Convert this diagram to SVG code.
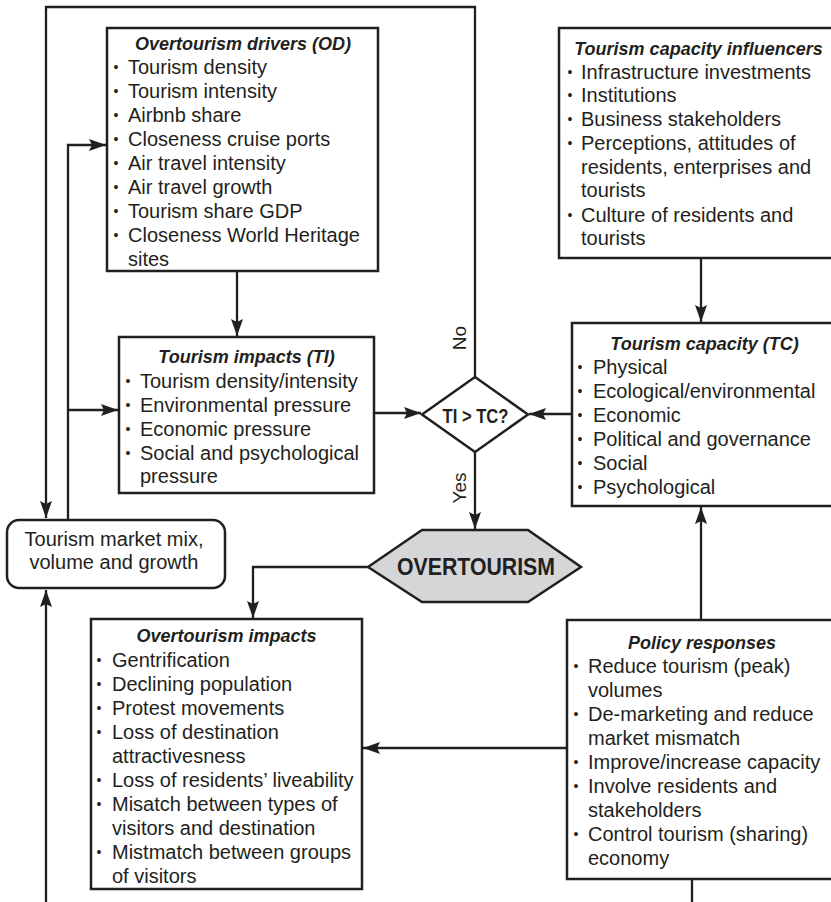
<svg xmlns="http://www.w3.org/2000/svg" width="831" height="902" viewBox="0 0 831 902">
<style>
text{font-family:"Liberation Sans",Arial,sans-serif;fill:#231f20;}
.t{font-size:18px;font-weight:bold;font-style:italic;text-anchor:middle;}
.i{font-size:20px;}
.b{font-size:14px;text-anchor:middle;}
.box{fill:#fff;stroke:#231f20;stroke-width:2.5;}
.c{fill:none;stroke:#231f20;stroke-width:2.3;}
.lbl{font-size:19px;text-anchor:middle;dominant-baseline:central;}
</style>
<defs>
<marker id="ah" markerUnits="userSpaceOnUse" markerWidth="17" markerHeight="12" refX="17" refY="6" orient="auto">
<path d="M0,0 L17,6 L0,12 L3,6 z" fill="#231f20"/>
</marker>
</defs>
<rect width="831" height="902" fill="#fff"/>

<g id="connectors">
<path class="c" d="M475,377 V7 H46 V518" marker-end="url(#ah)"/>
<path class="c" d="M68,520 V145 H106" marker-end="url(#ah)"/>
<path class="c" d="M68,410 H118" marker-end="url(#ah)"/>
<path class="c" d="M237,271 V336" marker-end="url(#ah)"/>
<path class="c" d="M374,413 H421" marker-end="url(#ah)"/>
<path class="c" d="M572,414 H529" marker-end="url(#ah)"/>
<path class="c" d="M701,258 V322" marker-end="url(#ah)"/>
<path class="c" d="M475,452 V529" marker-end="url(#ah)"/>
<path class="c" d="M368,567 H253 V618" marker-end="url(#ah)"/>
<path class="c" d="M567,748 H363" marker-end="url(#ah)"/>
<path class="c" d="M701,620 V507" marker-end="url(#ah)"/>
<path class="c" d="M46,902 V590" marker-end="url(#ah)"/>
<path class="c" d="M692,879 V902"/>
<text class="lbl" transform="translate(459,338) rotate(-90)">No</text>
<text class="lbl" transform="translate(459,488) rotate(-90)">Yes</text>
</g>

<g id="od">
<rect class="box" x="107" y="28" width="271" height="243"/>
<text class="t" x="243" y="50">Overtourism drivers (OD)</text>
<text class="b" x="116" y="72">•</text><text class="i" x="128" y="74">Tourism density</text>
<text class="b" x="116" y="96">•</text><text class="i" x="128" y="98">Tourism intensity</text>
<text class="b" x="116" y="120">•</text><text class="i" x="128" y="122">Airbnb share</text>
<text class="b" x="116" y="144">•</text><text class="i" x="128" y="146">Closeness cruise ports</text>
<text class="b" x="116" y="168">•</text><text class="i" x="128" y="170">Air travel intensity</text>
<text class="b" x="116" y="192">•</text><text class="i" x="128" y="194">Air travel growth</text>
<text class="b" x="116" y="216">•</text><text class="i" x="128" y="218">Tourism share GDP</text>
<text class="b" x="116" y="240">•</text><text class="i" x="128" y="242">Closeness World Heritage</text>
<text class="i" x="128" y="266">sites</text>
</g>

<g id="ti">
<rect class="box" x="119" y="337" width="255" height="156"/>
<text class="t" x="246.5" y="363">Tourism impacts (TI)</text>
<text class="b" x="128" y="386">•</text><text class="i" x="140" y="388">Tourism density/intensity</text>
<text class="b" x="128" y="410">•</text><text class="i" x="140" y="412">Environmental pressure</text>
<text class="b" x="128" y="434">•</text><text class="i" x="140" y="436">Economic pressure</text>
<text class="b" x="128" y="458">•</text><text class="i" x="140" y="460">Social and psychological</text>
<text class="i" x="140" y="483">pressure</text>
</g>

<g id="market">
<rect class="box" x="7" y="520" width="218" height="68" rx="12" ry="12"/>
<text class="i" x="114" y="546" text-anchor="middle">Tourism market mix,</text>
<text class="i" x="114" y="569" text-anchor="middle">volume and growth</text>
</g>

<g id="decision">
<polygon class="box" points="475,377 528,414.5 475,452 422,414.5"/>
<text x="475.5" y="423" font-size="20" font-weight="bold" text-anchor="middle" textLength="66" lengthAdjust="spacingAndGlyphs">TI &gt; TC?</text>
</g>

<g id="overtourism">
<polygon points="368,567 422,530 528,530 581,567 528,602 422,602" fill="#d5d6d8" stroke="#231f20" stroke-width="2.5"/>
<text x="476" y="575" font-size="23" font-weight="bold" text-anchor="middle" textLength="158" lengthAdjust="spacingAndGlyphs">OVERTOURISM</text>
</g>

<g id="tci">
<rect class="box" x="559" y="28" width="280" height="230"/>
<text class="t" x="698.5" y="55">Tourism capacity influencers</text>
<text class="b" x="570" y="77">•</text><text class="i" x="581" y="79">Infrastructure investments</text>
<text class="b" x="570" y="100">•</text><text class="i" x="581" y="102">Institutions</text>
<text class="b" x="570" y="124">•</text><text class="i" x="581" y="126">Business stakeholders</text>
<text class="b" x="570" y="148">•</text><text class="i" x="581" y="150">Perceptions, attitudes of</text>
<text class="i" x="581" y="174">residents, enterprises and</text>
<text class="i" x="581" y="197">tourists</text>
<text class="b" x="570" y="220">•</text><text class="i" x="581" y="222">Culture of residents and</text>
<text class="i" x="581" y="245">tourists</text>
</g>

<g id="tc">
<rect class="box" x="572" y="323" width="267" height="183"/>
<text class="t" x="704.5" y="350">Tourism capacity (TC)</text>
<text class="b" x="580" y="372">•</text><text class="i" x="593" y="374">Physical</text>
<text class="b" x="580" y="396">•</text><text class="i" x="593" y="398">Ecological/environmental</text>
<text class="b" x="580" y="420">•</text><text class="i" x="593" y="422">Economic</text>
<text class="b" x="580" y="444">•</text><text class="i" x="593" y="446">Political and governance</text>
<text class="b" x="580" y="468">•</text><text class="i" x="593" y="470">Social</text>
<text class="b" x="580" y="492">•</text><text class="i" x="593" y="494">Psychological</text>
</g>

<g id="oi">
<rect class="box" x="91" y="619" width="271" height="270"/>
<text class="t" x="226.5" y="642">Overtourism impacts</text>
<text class="b" x="99" y="665">•</text><text class="i" x="112" y="667">Gentrification</text>
<text class="b" x="99" y="689">•</text><text class="i" x="112" y="691">Declining population</text>
<text class="b" x="99" y="713">•</text><text class="i" x="112" y="715">Protest movements</text>
<text class="b" x="99" y="737">•</text><text class="i" x="112" y="739">Loss of destination</text>
<text class="i" x="112" y="763">attractivesness</text>
<text class="b" x="99" y="785">•</text><text class="i" x="112" y="787">Loss of residents’ liveability</text>
<text class="b" x="99" y="809">•</text><text class="i" x="112" y="811">Misatch between types of</text>
<text class="i" x="112" y="835">visitors and destination</text>
<text class="b" x="99" y="857">•</text><text class="i" x="112" y="859">Mistmatch between groups</text>
<text class="i" x="112" y="883">of visitors</text>
</g>

<g id="policy">
<rect class="box" x="567" y="620" width="272" height="259"/>
<text class="t" x="702" y="649">Policy responses</text>
<text class="b" x="576" y="671">•</text><text class="i" x="588" y="673">Reduce tourism (peak)</text>
<text class="i" x="588" y="697">volumes</text>
<text class="b" x="576" y="719">•</text><text class="i" x="588" y="721">De-marketing and reduce</text>
<text class="i" x="588" y="745">market mismatch</text>
<text class="b" x="576" y="767">•</text><text class="i" x="588" y="769">Improve/increase capacity</text>
<text class="b" x="576" y="791">•</text><text class="i" x="588" y="793">Involve residents and</text>
<text class="i" x="588" y="817">stakeholders</text>
<text class="b" x="576" y="839">•</text><text class="i" x="588" y="841">Control tourism (sharing)</text>
<text class="i" x="588" y="865">economy</text>
</g>
</svg>
